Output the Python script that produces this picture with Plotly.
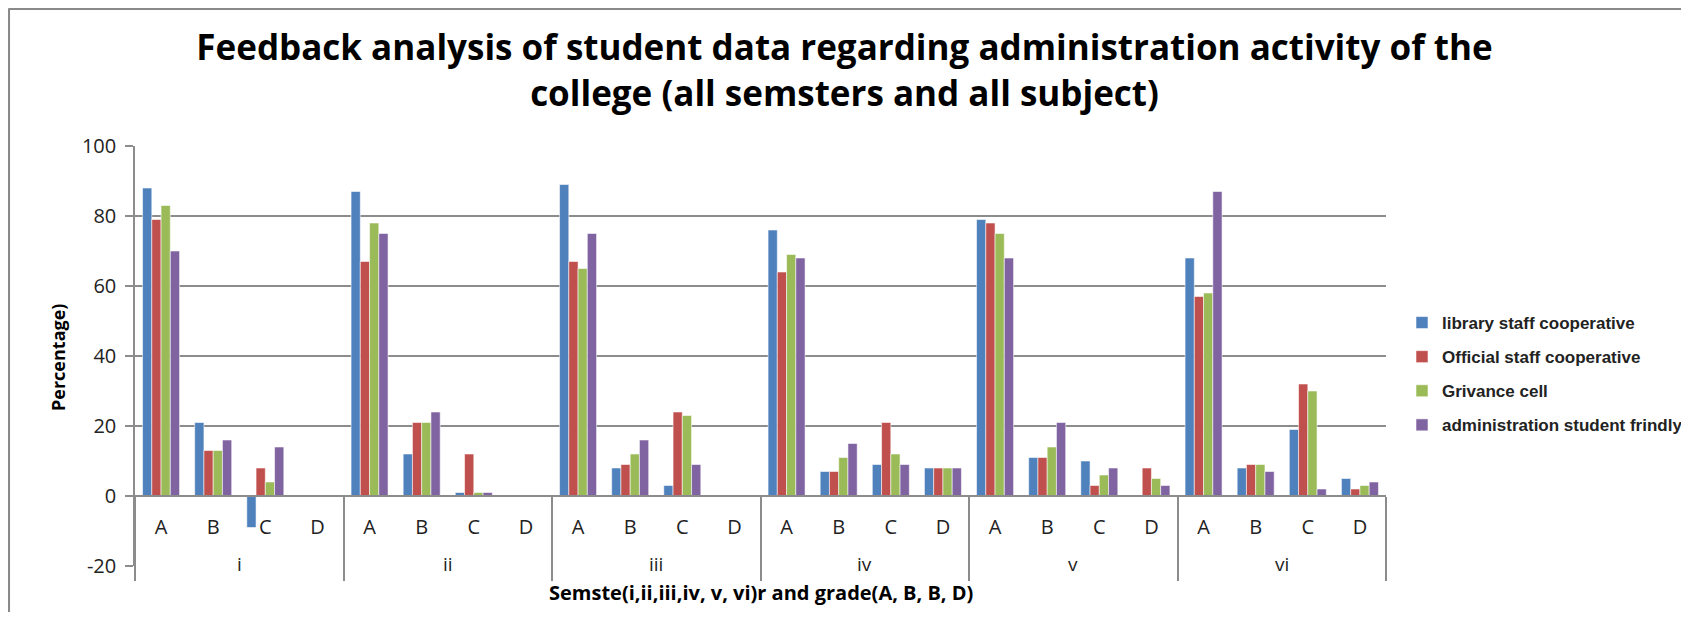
import plotly.graph_objects as go

semesters = ["i", "ii", "iii", "iv", "v", "vi"]
grades = ["A", "B", "C", "D"]

series_names = [
    "library staff cooperative",
    "Official staff cooperative",
    "Grivance cell",
    "administration student frindly",
]
library_staff = [88, 21, -9, None, 87, 12, 1, None, 89, 8, 3, None, 76, 7, 9, 8, 79, 11, 10, None, 68, 8, 19, 5]
official_staff = [79, 13, 8, None, 67, 21, 12, None, 67, 9, 24, None, 64, 7, 21, 8, 78, 11, 3, 8, 57, 9, 32, 2]
grivance_cell = [83, 13, 4, None, 78, 21, 1, None, 65, 12, 23, None, 69, 11, 12, 8, 75, 14, 6, 5, 58, 9, 30, 3]
admin_friendly = [70, 16, 14, None, 75, 24, 1, None, 75, 16, 9, None, 68, 15, 9, 8, 68, 21, 8, 3, 87, 7, 2, 4]

y_ticks = [-20, 0, 20, 40, 60, 80, 100]

colors = ["#4F81BD", "#C0504D", "#9BBB59", "#8064A2"]

n_g = len(grades)
n_cat = len(semesters) * n_g
x_pos = list(range(n_cat))
grade_labels = [g for s in semesters for g in grades]
sem_centers = [i * n_g + (n_g - 1) / 2 for i in range(len(semesters))]
boundaries = [i * n_g - 0.5 for i in range(len(semesters) + 1)]

fig = go.Figure()
for name, vals, col in zip(series_names, [library_staff, official_staff, grivance_cell, admin_friendly], colors):
    fig.add_trace(go.Bar(
        x=x_pos, y=vals, name="<b>" + name + "</b>",
        marker=dict(color=col, line=dict(color="rgba(255,255,255,0.55)", width=1)),
        legendgroup=name,
    ))

# figure drawn inside the page's 8px body margin
W, H = 1673, 604
L, T = 127, 138
PR, PB = 1378, 558          # plot right / bottom in figure pixels
R, B = W - PR, H - PB
pw, ph = PR - L, PB - T

def fx(p):
    return (p - L) / pw

def fy(p):
    return (PB - p) / ph

gray = "#8c8c8c"
axis_pos = fy(T + ph * 100 / 120)   # y = 0 line

fig.update_layout(
    width=W, height=H,
    margin=dict(l=L, r=R, t=T, b=B, autoexpand=False),
    paper_bgcolor="white", plot_bgcolor="white",
    barmode="group", bargap=0.29, bargroupgap=0,
    title=dict(
        text="<b>Feedback analysis of student data regarding administration activity of the<br>college (all semsters and all subject)</b>",
        x=0.5, xanchor="center", xref="container",
        y=1 - 52 / H, yanchor="middle", yref="container",
        font=dict(family="Open Sans, sans-serif", size=35, color="black"),
    ),
    legend=dict(
        x=fx(1394), xanchor="left",
        y=fy(366), yanchor="middle",
        font=dict(family="Liberation Sans, Arial, sans-serif", size=17, color="#222"),
        tracegroupgap=9, bgcolor="rgba(0,0,0,0)",
    ),
    showlegend=True,
    font=dict(family="Open Sans, sans-serif", color="#222"),
    xaxis=dict(
        range=[-0.5, n_cat - 0.5], tickmode="array", tickvals=x_pos, ticktext=grade_labels,
        ticks="", anchor="free", position=axis_pos,
        showline=True, linecolor=gray, linewidth=1.5, showgrid=False, zeroline=False,
        ticklabelstandoff=13,
        tickfont=dict(family="Open Sans, sans-serif", size=20, color="#222"),
        minor=dict(tickmode="array", tickvals=boundaries, ticks="outside", ticklen=84,
                   tickcolor=gray, tickwidth=1.5, showgrid=False),
    ),
    yaxis=dict(
        range=[-20, 100], tickmode="array", tickvals=y_ticks, ticktext=[str(v) for v in y_ticks],
        ticks="outside", ticklen=8, tickcolor=gray,
        tickwidth=1.5, showline=True, linecolor=gray, linewidth=1.5,
        showgrid=True, gridcolor=gray, gridwidth=1.5, zeroline=False,
        ticklabelstandoff=5,
        tickfont=dict(family="Open Sans, sans-serif", size=20, color="#222"),
    ),
)

# semester (outer category) labels, placed on the x scale
for xc, s in zip(sem_centers, semesters):
    fig.add_annotation(
        text=s, xref="x", yref="paper", x=xc, y=fy(556),
        showarrow=False, xanchor="center", yanchor="middle",
        font=dict(family="Open Sans, sans-serif", size=19, color="#222"),
    )

# axis titles
fig.add_annotation(
    text="<b>Semste(i,ii,iii,iv, v, vi)r and grade(A, B, B, D)</b>",
    xref="paper", yref="paper", x=fx(753), y=fy(584),
    showarrow=False, xanchor="center", yanchor="middle",
    font=dict(family="Open Sans, sans-serif", size=20, color="black"),
)
fig.add_annotation(
    text="<b>Percentage)</b>", textangle=-90,
    xref="paper", yref="paper", x=fx(49.5), y=fy(349.5),
    showarrow=False, xanchor="center", yanchor="middle",
    font=dict(family="Open Sans, sans-serif", size=18, color="black"),
)

# chart border (frame of the chart object)
fig.add_shape(type="line", xref="paper", yref="paper",
              x0=fx(0.5), x1=fx(W + 20), y0=fy(0.8), y1=fy(0.8),
              line=dict(color="#8a8a8a", width=2.5))
fig.add_shape(type="line", xref="paper", yref="paper",
              x0=fx(0.8), x1=fx(0.8), y0=fy(0.5), y1=fy(H + 20),
              line=dict(color="#8a8a8a", width=2.5))

fig.write_html("out.html")
